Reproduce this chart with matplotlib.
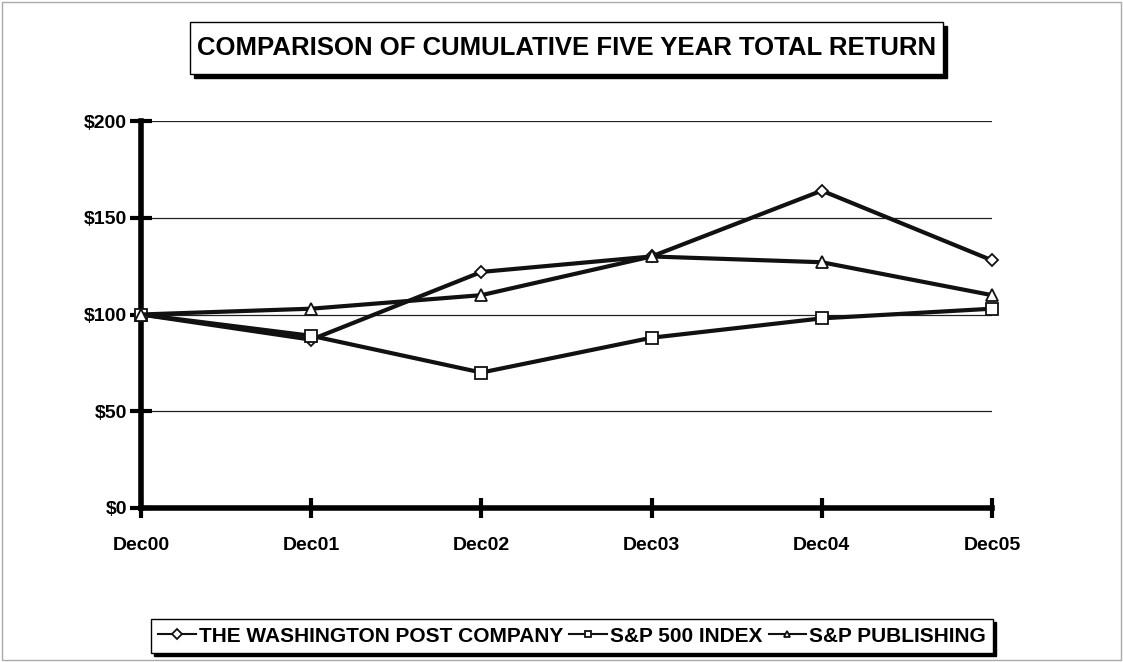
import matplotlib
matplotlib.use("Agg")
import matplotlib.pyplot as plt
from matplotlib.patches import Rectangle

# Data
periods = ["Dec00", "Dec01", "Dec02", "Dec03", "Dec04", "Dec05"]
wapo = [100, 87, 122, 130, 164, 128]
sp500 = [100, 89, 70, 88, 98, 103]
sp_publishing = [100, 103, 110, 130, 127, 110]
series_names = ["THE WASHINGTON POST COMPANY", "S&P 500 INDEX", "S&P PUBLISHING"]
yticks = [0, 50, 100, 150, 200]

plt.rcParams["font.family"] = ["Liberation Sans", "DejaVu Sans"]
plt.rcParams["font.weight"] = "bold"

W, H = 1123, 662
fig = plt.figure(figsize=(W / 100, H / 100), dpi=100)

# Axes placed in pixel terms of the reference
left, right, top, bottom = 141, 992, 121, 508
ax = fig.add_axes([left / W, 1 - bottom / H, (right - left) / W, (bottom - top) / H])

x = list(range(len(periods)))
markers = ["D", "s", "^"]
sizes = [6.5, 8, 8]
for vals, name, m, ms in zip([wapo, sp500, sp_publishing], series_names, markers, sizes):
    ax.plot(x, vals, color="#111111", lw=3, marker=m, markersize=ms,
            markerfacecolor="white", markeredgecolor="#111111", markeredgewidth=1.3,
            label=name, zorder=3, clip_on=False)

ax.set_xlim(0, 5)
ax.set_ylim(0, 200)
ax.set_xticks(x)
ax.set_xticklabels(periods, fontsize=14, fontweight="bold")
ax.set_yticks(yticks)
ax.set_yticklabels([f"${v}" for v in yticks], fontsize=14, fontweight="bold")

for v in yticks[1:]:
    ax.axhline(v, color="#222222", lw=0.9, zorder=1)

for s in ["top", "right"]:
    ax.spines[s].set_visible(False)
ax.spines["left"].set_linewidth(4)
ax.spines["bottom"].set_linewidth(4)
ax.tick_params(axis="y", direction="inout", length=16, width=3, pad=2)
ax.tick_params(axis="x", direction="inout", length=14, width=3, pad=14)

# Title box with a drop shadow
tl, tr, tt, tb = 190, 943, 22, 74
fig.patches.append(Rectangle(((tl + 4) / W, 1 - (tb + 4) / H), (tr - tl) / W, (tb - tt) / H,
                             transform=fig.transFigure, facecolor="black", edgecolor="black"))
fig.patches.append(Rectangle((tl / W, 1 - tb / H), (tr - tl) / W, (tb - tt) / H,
                             transform=fig.transFigure, facecolor="white", edgecolor="black", lw=1))
fig.text((tl + tr) / 2 / W, 1 - (tt + tb) / 2 / H, "COMPARISON OF CUMULATIVE FIVE YEAR TOTAL RETURN",
         ha="center", va="center", fontsize=18.5, fontweight="bold")

# Legend box
leg = fig.legend(loc="center", bbox_to_anchor=(572 / W, 1 - 636 / H), ncol=3,
                 fontsize=15, frameon=True, fancybox=False, edgecolor="black",
                 handlelength=1.8, handletextpad=0.15, columnspacing=0.3,
                 borderpad=0.35, shadow={"color": "black", "alpha": 1})
leg.get_frame().set_linewidth(1)
for line in leg.get_lines():
    line.set_linewidth(1.5)
    line.set_markersize(5)

# faint outer border
fig.patches.append(Rectangle((2 / W, 2 / H), (W - 4) / W, (H - 4) / H, transform=fig.transFigure,
                             facecolor="none", edgecolor="#aaaaaa", lw=1))

fig.savefig("out.png", dpi=100)
